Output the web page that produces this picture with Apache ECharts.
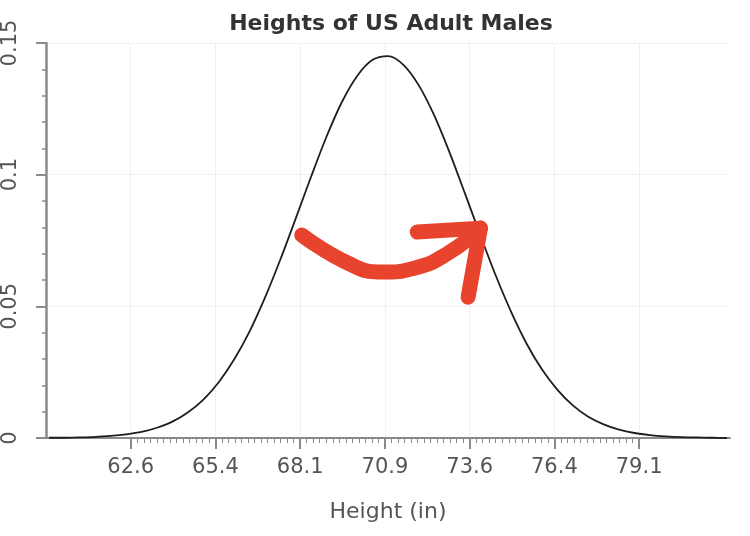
<!DOCTYPE html>
<html>
<head>
<meta charset="utf-8">
<title>Heights of US Adult Males</title>
<script src="https://cdn.jsdelivr.net/npm/echarts@6/dist/echarts.min.js"></script>
<style>
  html, body { margin: 0; padding: 0; background: #fff; }
  #chart { width: 750px; height: 536px; }
</style>
</head>
<body>
<div id="chart"></div>
<script>
// 身高 (in)，每 0.5 in 一个点
const heights = [
  60, 60.5, 61, 61.5, 62, 62.5, 63, 63.5, 64, 64.5, 65, 65.5, 66, 66.5, 67, 67.5,
  68, 68.5, 69, 69.5, 70, 70.5, 71, 71.5, 72, 72.5, 73, 73.5, 74, 74.5, 75, 75.5,
  76, 76.5, 77, 77.5, 78, 78.5, 79, 79.5, 80, 80.5, 81, 81.5, 82
]
// 密度值
const density = [
  0.0001, 0.0001, 0.0002, 0.0004, 0.0008, 0.0014, 0.0023, 0.0039, 0.0062, 0.0097, 0.0145, 0.0211, 0.0297, 0.0403, 0.0531, 0.0676,
  0.0832, 0.0991, 0.1143, 0.1275, 0.1375, 0.1436, 0.1450, 0.1417, 0.1339, 0.1225, 0.1084, 0.0928, 0.0769, 0.0616, 0.0478, 0.0358,
  0.0260, 0.0183, 0.0124, 0.0081, 0.0052, 0.0032, 0.0019, 0.0011, 0.0006, 0.0003, 0.0002, 0.0001, 0.0000
]

// x 轴刻度
const xTickValues = [62.65, 65.4, 68.15, 70.9, 73.65, 76.4, 79.15]
const xTickLabels = ['62.6', '65.4', '68.1', '70.9', '73.6', '76.4', '79.1']
// y 轴刻度
const yTickValues = [0, 0.05, 0.1, 0.15]
const yTickLabels = ['0', '0.05', '0.1', '0.15']

// 红色手绘箭头 (数据坐标)
const arrowCurve = [[68.2, 0.0771], [69.7, 0.0664], [70.8, 0.0630], [71.85, 0.0645], [72.95, 0.0702], [74.0, 0.0797]]
const arrowHead = [[71.95, 0.0782], [74.0, 0.0797], [73.6, 0.0535]]

// x 轴小刻度：每个大刻度之间 12 个
const xMinorTicks = []
for (let i = 0; i < xTickValues.length - 1; i++) {
  const a = xTickValues[i], b = xTickValues[i + 1]
  for (let k = 1; k < 13; k++) xMinorTicks.push(a + (b - a) * k / 13)
}

function nearestLabel(values, labels, v) {
  let best = 0
  for (let i = 1; i < values.length; i++) {
    if (Math.abs(values[i] - v) < Math.abs(values[best] - v)) best = i
  }
  return Math.abs(values[best] - v) < 1e-6 ? labels[best] : ''
}

const labelFont = 'DejaVu Sans'
const axisGray = '#8a8a8a'

let myChart = echarts.init(document.getElementById('chart'), null, { renderer: 'canvas' })
let option = {
  backgroundColor: '#fff',
  animation: false,
  title: {
    text: 'Heights of US Adult Males',
    left: 386,
    top: 8,
    textAlign: 'center',
    textStyle: { fontFamily: labelFont, fontSize: 22, fontWeight: 'bold', color: '#333' }
  },
  grid: { left: 43, right: 20, top: 43, bottom: 98 },
  xAxis: [
    {
      type: 'value',
      min: 59.9,
      max: 82.1,
      interval: 2.75,
      name: 'Height (in)',
      nameLocation: 'middle',
      nameGap: 63,
      nameTextStyle: { fontFamily: labelFont, fontSize: 22, color: '#555' },
      axisLine: { show: true, lineStyle: { color: axisGray, width: 2 } },
      axisTick: { show: true, customValues: xTickValues, length: 11, lineStyle: { color: axisGray, width: 2 } },
      axisLabel: {
        customValues: xTickValues,
        margin: 19,
        fontFamily: labelFont,
        fontSize: 21,
        color: '#555',
        formatter: v => nearestLabel(xTickValues, xTickLabels, v)
      },
      splitLine: { show: true, lineStyle: { color: '#e4e4e4', type: 'dotted', width: 1 } }
    },
    {
      // 只用来画小刻度
      type: 'value',
      position: 'bottom',
      min: 59.9,
      max: 82.1,
      axisLine: { show: false },
      axisTick: { show: true, customValues: xMinorTicks, length: 5, lineStyle: { color: axisGray, width: 1 } },
      axisLabel: { show: false },
      splitLine: { show: false }
    }
  ],
  yAxis: {
    type: 'value',
    min: 0,
    max: 0.15,
    interval: 0.05,
    axisLine: { show: true, lineStyle: { color: axisGray, width: 2.5 } },
    axisTick: { show: true, length: 10, lineStyle: { color: axisGray, width: 2 } },
    minorTick: { show: true, splitNumber: 5, length: 4, lineStyle: { color: axisGray, width: 1.5 } },
    axisLabel: {
      rotate: 90,
      margin: 25,
      fontFamily: labelFont,
      fontSize: 21,
      color: '#555',
      formatter: v => nearestLabel(yTickValues, yTickLabels, v)
    },
    splitLine: { show: true, lineStyle: { color: '#e4e4e4', type: 'dotted', width: 1 } }
  },
  series: [
    {
      name: 'density',
      type: 'line',
      data: heights.map((h, i) => [h, density[i]]),
      smooth: 0.3,
      symbol: 'none',
      lineStyle: { color: '#1e1e1e', width: 1.8 },
      z: 3
    },
    {
      name: 'arrow',
      type: 'line',
      data: arrowCurve,
      smooth: 0.5,
      symbol: 'none',
      lineStyle: { color: '#e8432d', width: 15, cap: 'round', join: 'round' },
      z: 5
    },
    {
      name: 'arrowHead',
      type: 'line',
      data: arrowHead,
      symbol: 'none',
      lineStyle: { color: '#e8432d', width: 15, cap: 'round', join: 'round' },
      z: 5
    }
  ]
}
myChart.setOption(option)
// 自适应
window.addEventListener('resize', function () {
  myChart.resize()
})
</script>
</body>
</html>
